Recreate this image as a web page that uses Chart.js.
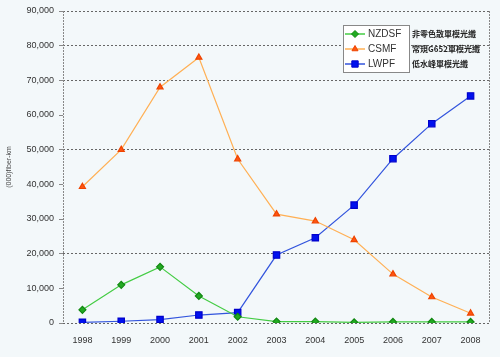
<!DOCTYPE html>
<html><head><meta charset="utf-8">
<script src="https://cdn.jsdelivr.net/npm/chart.js@4"></script>
<style>html,body{margin:0;padding:0;background:#f3f8fa;}#c{display:block;}</style>
</head><body>
<canvas id="c" width="500" height="357"></canvas>
<script>
const years = ['1998','1999','2000','2001','2002','2003','2004','2005','2006','2007','2008'];
const nzdsf = [3800, 11000, 16200, 7800, 1800, 400, 400, 200, 300, 300, 300];
const csmf  = [39300, 50000, 68000, 76600, 47300, 31400, 29400, 24000, 14100, 7500, 2800];
const lwpf  = [200, 500, 1000, 2300, 3000, 19600, 24600, 34000, 47400, 57500, 65500];
const seriesNames = ['NZDSF','CSMF','LWPF'];
const seriesCn = ['非零色散單模光纖','常規G652單模光纖','低水峰單模光纖'];
const yTitle = '(000)fiber-km';
const gridShown = [0, 20000, 50000, 70000, 80000, 90000];

const legendPlugin = {
  id: 'customLegend',
  afterDraw(chart) {
    const ctx = chart.ctx;
    ctx.save();
    const x0 = 343, y0 = 25, w = 66, h = 47;
    ctx.fillStyle = '#ffffff';
    ctx.fillRect(x0, y0, w, h);
    ctx.strokeStyle = '#888';
    ctx.lineWidth = 1;
    ctx.strokeRect(x0 + 0.5, y0 + 0.5, w, h);
    chart.data.datasets.forEach((ds, i) => {
      const y = y0 + 9 + i * 15;
      ctx.strokeStyle = ds.borderColor;
      ctx.lineWidth = 1.5;
      ctx.beginPath(); ctx.moveTo(345, y); ctx.lineTo(365, y); ctx.stroke();
      ctx.fillStyle = ds.pointBackgroundColor;
      ctx.strokeStyle = ds.pointBorderColor;
      ctx.lineWidth = 1;
      Chart.helpers.drawPoint(ctx, {pointStyle: ds.pointStyle, radius: ds.pointRadius, borderWidth: 1}, 355, y);
      ctx.fillStyle = '#333';
      ctx.font = '10px "Liberation Sans", Arial, sans-serif';
      ctx.textBaseline = 'middle';
      ctx.textAlign = 'left';
      ctx.fillText(seriesNames[i], 368, y);
      ctx.font = 'bold 8px "Noto Sans CJK TC", sans-serif';
      ctx.fillStyle = '#222';
      ctx.fillText(seriesCn[i], 412, y);
    });
    // y title
    ctx.translate(9, 167);
    ctx.rotate(-Math.PI / 2);
    ctx.font = '7px "Liberation Sans", Arial, sans-serif';
    ctx.fillStyle = '#444';
    ctx.textAlign = 'center';
    ctx.fillText(yTitle, 0, 0);
    ctx.restore();
  }
};

const borderPlugin = {
  id: 'dashBorder',
  beforeDatasetsDraw(chart) {
    const {ctx, chartArea: a} = chart;
    ctx.save();
    ctx.strokeStyle = '#888';
    ctx.lineWidth = 1;
    ctx.setLineDash([2, 1]);
    ctx.beginPath();
    ctx.moveTo(Math.round(a.left) + 0.5, a.top); ctx.lineTo(Math.round(a.left) + 0.5, a.bottom);
    ctx.moveTo(Math.round(a.right) - 0.5, a.top); ctx.lineTo(Math.round(a.right) - 0.5, a.bottom);
    ctx.stroke();
    ctx.restore();
  }
};

new Chart(document.getElementById('c'), {
  type: 'line',
  data: {
    labels: years,
    datasets: [
      {label: seriesNames[0], data: nzdsf, borderColor: '#44cc44', borderWidth: 1.2,
       pointStyle: 'rectRot', pointRadius: 3.5, pointBackgroundColor: '#22aa22', pointBorderColor: '#118811'},
      {label: seriesNames[1], data: csmf, borderColor: '#ffb055', borderWidth: 1.2,
       pointStyle: 'triangle', pointRadius: 3.5, pointBackgroundColor: '#ff5511', pointBorderColor: '#ee4400'},
      {label: seriesNames[2], data: lwpf, borderColor: '#3355dd', borderWidth: 1.2,
       pointStyle: 'rect', pointRadius: 4.5, pointBackgroundColor: '#0011ee', pointBorderColor: '#0000cc'}
    ]
  },
  options: {
    responsive: false,
    animation: false,
    layout: {padding: {top: 11, right: 10, left: 0, bottom: 0}},
    plugins: {legend: {display: false}, tooltip: {enabled: false}},
    elements: {line: {tension: 0}},
    scales: {
      x: {
        offset: true,
        grid: {display: false, drawTicks: false},
        border: {display: false},
        ticks: {color: '#333', font: {size: 9, family: '"Liberation Sans", Arial, sans-serif'}, padding: 12, maxRotation: 0, autoSkip: false},
        afterFit(s) { s.height = 34; }
      },
      y: {
        min: 0, max: 90000,
        ticks: {stepSize: 10000, color: '#333', padding: 5,
          font: {size: 9, family: '"Liberation Sans", Arial, sans-serif'},
          callback: v => v.toLocaleString('en-US')},
        grid: {
          color: ctx => gridShown.includes(ctx.tick && ctx.tick.value) ? '#666' : 'rgba(0,0,0,0)',
          lineWidth: 1,
          tickColor: '#888', tickLength: 4, drawTicks: true
        },
        border: {display: false, dash: [2, 2]},
        afterFit(s) { s.width = 63; }
      }
    }
  },
  plugins: [borderPlugin, legendPlugin]
});
</script>
</body></html>
